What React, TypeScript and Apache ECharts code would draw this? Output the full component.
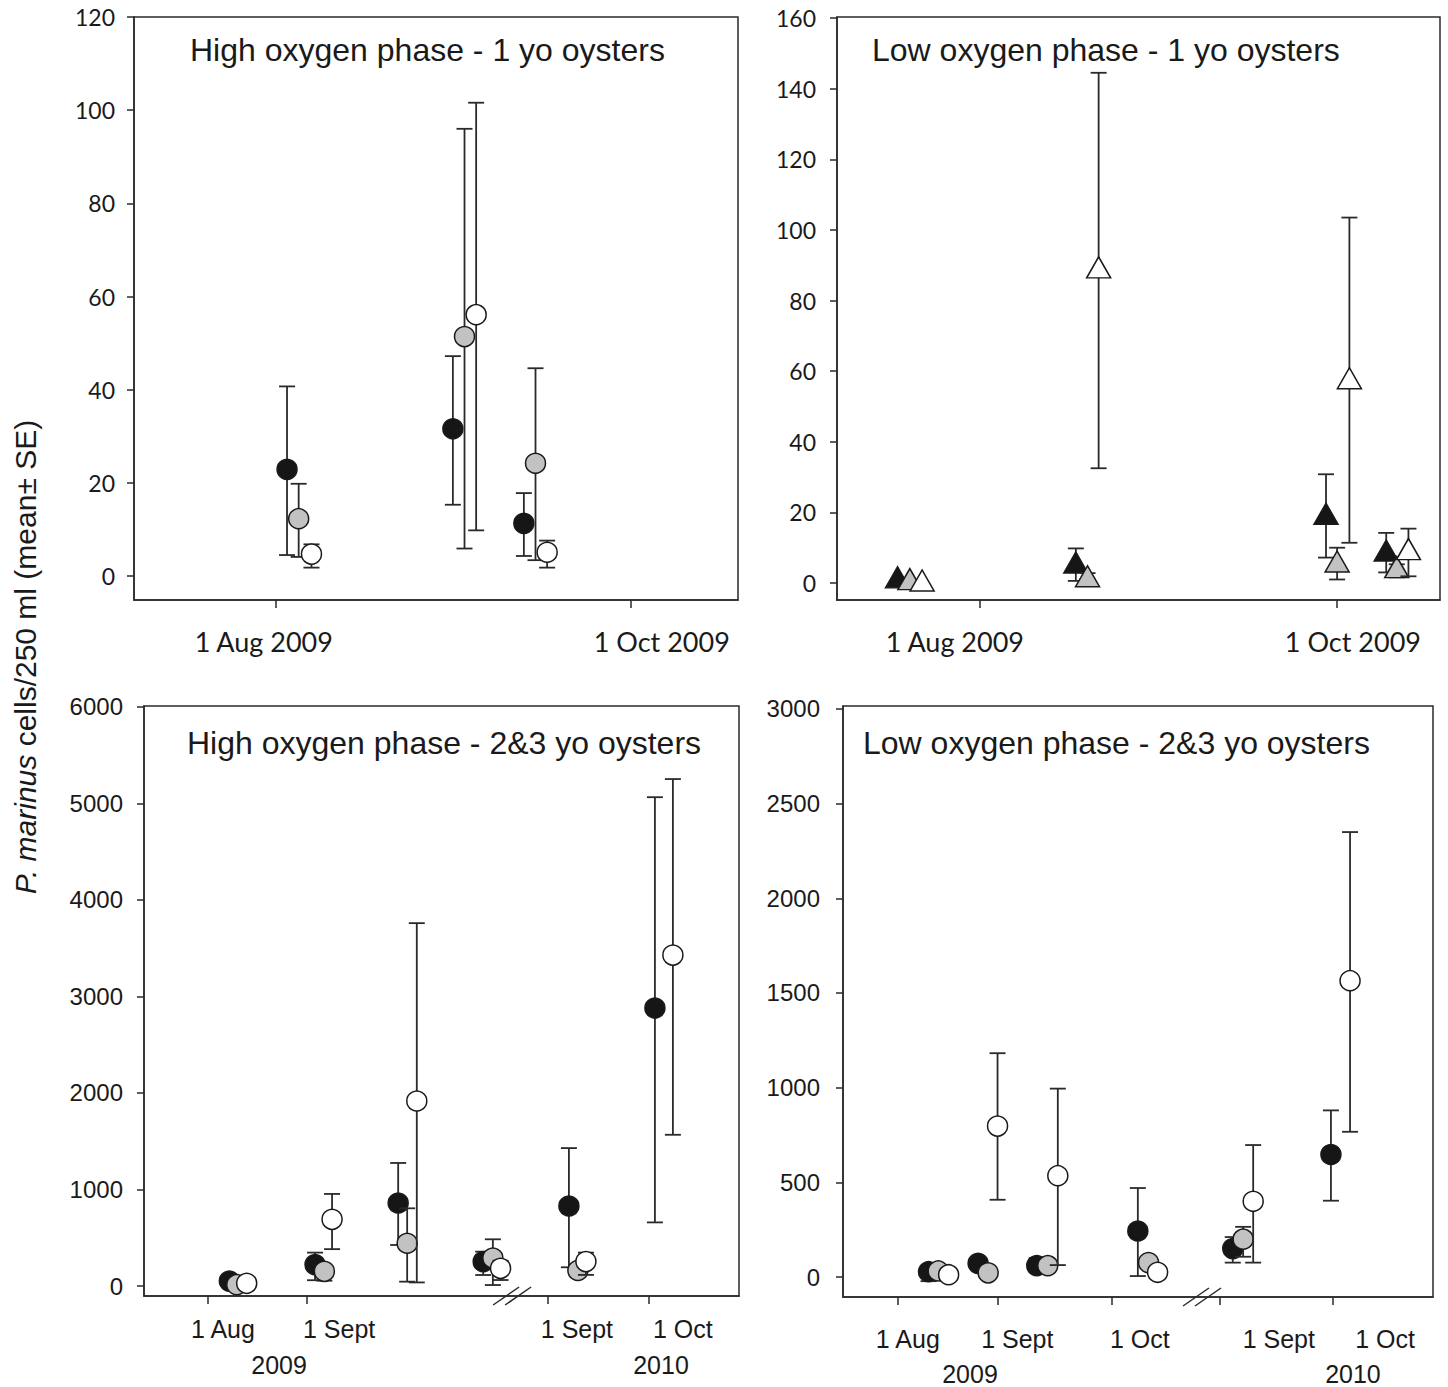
import React, { useEffect, useRef } from "react";
import * as echarts from "echarts";

// ---------- DATA ----------
// each tuple: [axis position (days from 1 Aug 2009 along the drawn axis), mean, lower (mean-SE), upper (mean+SE)]
const hi1Black = [[1.9, 22.9, 4.5, 40.7], [30.4, 31.6, 15.3, 47.2], [42.6, 11.3, 4.3, 17.8]];
const hi1Gray = [[3.9, 12.3, 4.1, 19.8], [32.4, 51.4, 5.9, 96.0], [44.6, 24.2, 3.4, 44.6]];
const hi1White = [[6.1, 4.7, 1.8, 6.8], [34.4, 56.1, 9.8, 101.6], [46.6, 5.1, 1.8, 7.6]];

const lo1Black = [[-14.1, 1.6, 1.6, 1.6], [16.4, 5.8, 0.6, 9.8], [59.2, 19.6, 7.2, 30.8], [69.5, 9.2, 3.0, 14.2]];
const lo1Gray = [[-12.0, 1.1, 1.1, 1.1], [18.4, 1.9, 1.0, 2.8], [61.1, 6.1, 1.0, 10.0], [71.3, 4.5, 1.6, 5.3]];
const lo1White = [[-9.9, 0.7, 0.7, 0.7], [20.3, 89.4, 32.5, 144.5], [63.2, 58.0, 11.4, 103.5], [73.3, 9.6, 1.9, 15.4]];

const hi23Black = [[6.8, 51, 51, 51], [33.5, 221, 60, 346], [59.4, 860, 425, 1275], [85.9, 252, 114, 356], [112.6, 829, 194, 1429], [139.4, 2880, 659, 5065]];
const hi23Gray = [[9.1, 14, 14, 14], [36.4, 152, 55, 195], [62.2, 443, 45, 805], [88.9, 290, 10, 484], [115.4, 161, 120, 200]];
const hi23White = [[12.2, 28, 28, 28], [38.8, 691, 382, 954], [65.2, 1917, 37, 3760], [91.3, 183, 62, 262], [117.9, 253, 115, 346], [145.0, 3429, 1567, 5253]];

const lo23Black = [[9.6, 28, -22, 50], [24.9, 72, 72, 72], [43.0, 60, 30, 100], [74.2, 243, 5, 470], [103.5, 150, 76, 211], [133.8, 647, 403, 880]];
const lo23Gray = [[12.6, 32, 32, 32], [28.0, 22, 22, 22], [46.4, 60, 60, 60], [77.5, 76, 76, 76], [106.7, 200, 107, 265]];
const lo23White = [[15.8, 12, 12, 12], [30.9, 797, 408, 1182], [49.5, 535, 63, 995], [80.3, 25, 25, 25], [109.8, 400, 76, 697], [139.7, 1565, 767, 2350]];

// axis ticks / labels
const topTicks = [0, 61];
const topLabels = ["1 Aug 2009", "1 Oct 2009"];
const hi1LabelPos = [-2.1, 66.3];
const lo1LabelPos = [-4.3, 63.8];

const hi23Ticks = [0, 31, 106, 137.4];
const hi23LabelPos = [4.8, 41, 115.1, 148.1];
const hi23Labels = ["1 Aug", "1 Sept", "1 Sept", "1 Oct"];
const hi23YearPos = [22.3, 141.3];

const lo23Ticks = [0, 31, 66.2, 99.4, 134.4];
const lo23LabelPos = [3.2, 37, 74.8, 117.7, 150.5];
const lo23Labels = ["1 Aug", "1 Sept", "1 Oct", "1 Sept", "1 Oct"];
const lo23YearPos = [22.4, 140.6];
const yearLabels = ["2009", "2010"];

const hi1YTicks = [0, 20, 40, 60, 80, 100, 120];
const lo1YTicks = [0, 20, 40, 60, 80, 100, 120, 140, 160];
const hi23YTicks = [0, 1000, 2000, 3000, 4000, 5000, 6000];
const lo23YTicks = [0, 500, 1000, 1500, 2000, 2500, 3000];

const hi23Break = 94.9;
const lo23Break = 94.0;

const titles = [
  "High oxygen phase - 1 yo oysters",
  "Low oxygen phase - 1 yo oysters",
  "High oxygen phase - 2&3 yo oysters",
  "Low oxygen phase - 2&3 yo oysters",
];

// ---------- STYLE ----------
const ARIAL = '"Liberation Sans", Arial, sans-serif';
const CAL = 'Lato, "Open Sans", sans-serif';
const INK = "#1a1a1a";
const LINE = "#2a2a2a";

const lookup = (pos: number[], txt: string[]) => (v: number) => {
  const i = pos.findIndex((p) => Math.abs(p - v) < 1e-6);
  return i >= 0 ? txt[i] : "";
};

function xAxisDef(gi: number, min: number, max: number, ticks: number[], labelPos: number[], labels: string[], font: string, size: number, margin: number) {
  return {
    type: "value", gridIndex: gi, min, max, position: "bottom",
    axisLine: { show: true, onZero: false, lineStyle: { color: LINE, width: 1.5 } },
    axisTick: { show: true, inside: false, length: 8, customValues: ticks, lineStyle: { color: LINE, width: 1.5 } },
    axisLabel: { show: true, customValues: labelPos, formatter: lookup(labelPos, labels), fontFamily: font, fontSize: size, color: INK, margin },
    splitLine: { show: false },
  };
}

function yearAxisDef(gi: number, min: number, max: number, pos: number[], margin: number) {
  return {
    type: "value", gridIndex: gi, min, max, position: "bottom",
    axisLine: { show: false, onZero: false },
    axisTick: { show: false },
    axisLabel: { show: true, customValues: pos, formatter: lookup(pos, yearLabels), fontFamily: ARIAL, fontSize: 25, color: INK, margin },
    splitLine: { show: false },
  };
}

function yAxisDef(gi: number, min: number, max: number, ticks: number[], font: string, size: number, margin: number) {
  return {
    type: "value", gridIndex: gi, min, max,
    axisLine: { show: true, onZero: false, lineStyle: { color: LINE, width: 1.5 } },
    axisTick: { show: true, inside: false, length: 7, customValues: ticks, lineStyle: { color: LINE, width: 1.5 } },
    axisLabel: { show: true, customValues: ticks, formatter: (v: number) => String(v), fontFamily: font, fontSize: size, color: INK, margin },
    splitLine: { show: false },
  };
}

function errSeries(ai: number, data: number[][], z: number) {
  return {
    type: "custom", xAxisIndex: ai, yAxisIndex: ai, z, silent: true, clip: false,
    data: data.filter((d) => d[3] > d[2]),
    encode: { x: 0, y: 1 },
    renderItem: (_p: any, api: any) => {
      const x = api.value(0);
      const top = api.coord([x, api.value(3)]);
      const bot = api.coord([x, api.value(2)]);
      const hw = 8;
      const st = { stroke: LINE, lineWidth: 1.8 };
      return {
        type: "group",
        children: [
          { type: "line", shape: { x1: top[0], y1: top[1], x2: bot[0], y2: bot[1] }, style: st },
          { type: "line", shape: { x1: top[0] - hw, y1: top[1], x2: top[0] + hw, y2: top[1] }, style: st },
          { type: "line", shape: { x1: bot[0] - hw, y1: bot[1], x2: bot[0] + hw, y2: bot[1] }, style: st },
        ],
      };
    },
  };
}

function ptSeries(ai: number, data: number[][], color: string, symbol: string, size: any, z: number) {
  return {
    type: "scatter", xAxisIndex: ai, yAxisIndex: ai, z, silent: true,
    data: data.map((d) => [d[0], d[1]]),
    symbol, symbolSize: size,
    itemStyle: { color, borderColor: INK, borderWidth: 1.5, opacity: 1 },
  };
}

function breakSeries(ai: number, x: number, y: number) {
  return {
    type: "custom", xAxisIndex: ai, yAxisIndex: ai, z: 20, silent: true, clip: false,
    data: [[x, y]],
    encode: { x: 0, y: 1 },
    renderItem: (_p: any, api: any) => {
      const c = api.coord([api.value(0), api.value(1)]);
      const st = { stroke: LINE, lineWidth: 1.5 };
      const mk = (dx: number) => ({ type: "line", shape: { x1: c[0] + dx - 13, y1: c[1] + 9, x2: c[0] + dx + 13, y2: c[1] - 9 }, style: st });
      return { type: "group", children: [mk(-6), mk(6)] };
    },
  };
}

function groupSeries(ai: number, black: number[][], gray: number[][], white: number[][], symbol: string, size: any) {
  return [
    errSeries(ai, black, 2), ptSeries(ai, black, "#161616", symbol, size, 3),
    errSeries(ai, gray, 4), ptSeries(ai, gray, "#c2c2c2", symbol, size, 5),
    errSeries(ai, white, 6), ptSeries(ai, white, "#ffffff", symbol, size, 7),
  ];
}

export default function App() {
  const ref = useRef<HTMLDivElement>(null);
  useEffect(() => {
    document.body.style.margin = "0";
    if (!ref.current) return;
    const chart = echarts.init(ref.current, null, { renderer: "svg" });
    const grid = (left: number, top: number, width: number, height: number) => ({
      left, top, width, height, show: true, borderColor: LINE, borderWidth: 1.5, backgroundColor: "transparent", containLabel: false,
    });
    const X = [
      { min: -24.4, max: 79.4 },
      { min: -24.46, max: 78.7 },
      { min: -19.8, max: 165.6 },
      { min: -16.8, max: 165.3 },
    ];
    const Y = [
      { min: -5.15, max: 120.0 },
      { min: -4.81, max: 160.3 },
      { min: -103.6, max: 6010 },
      { min: -105.6, max: 3015.8 },
    ];
    const titleText = (t: string, x: number, y: number) => ({
      type: "text", x, y, silent: true,
      style: { text: t, fontFamily: ARIAL, fontSize: 32, fill: INK, align: "left", verticalAlign: "middle" },
    });
    const option: any = {
      animation: false,
      backgroundColor: "#ffffff",
      grid: [grid(134, 17, 604, 583), grid(837, 17, 603, 583), grid(144, 706, 595, 590), grid(843, 706, 590, 591)],
      xAxis: [
        xAxisDef(0, X[0].min, X[0].max, topTicks, hi1LabelPos, topLabels, CAL, 27, 28),
        xAxisDef(1, X[1].min, X[1].max, topTicks, lo1LabelPos, topLabels, CAL, 27, 28),
        xAxisDef(2, X[2].min, X[2].max, hi23Ticks, hi23LabelPos, hi23Labels, ARIAL, 25, 20),
        xAxisDef(3, X[3].min, X[3].max, lo23Ticks, lo23LabelPos, lo23Labels, ARIAL, 25, 29),
        yearAxisDef(2, X[2].min, X[2].max, hi23YearPos, 56),
        yearAxisDef(3, X[3].min, X[3].max, lo23YearPos, 64),
      ],
      yAxis: [
        yAxisDef(0, Y[0].min, Y[0].max, hi1YTicks, CAL, 23, 19),
        yAxisDef(1, Y[1].min, Y[1].max, lo1YTicks, CAL, 23, 21),
        yAxisDef(2, Y[2].min, Y[2].max, hi23YTicks, ARIAL, 24, 21),
        yAxisDef(3, Y[3].min, Y[3].max, lo23YTicks, ARIAL, 24, 23),
      ],
      graphic: [
        titleText(titles[0], 190, 50),
        titleText(titles[1], 872, 50),
        titleText(titles[2], 187, 743),
        titleText(titles[3], 863, 743),
        {
          type: "text", x: 25, y: 657, rotation: Math.PI / 2, silent: true,
          style: {
            text: "{i|P. marinus} cells/250 ml (mean\u00b1 SE)",
            fontFamily: ARIAL, fontSize: 30, fill: INK, align: "center", verticalAlign: "middle",
            rich: { i: { fontStyle: "italic", fontFamily: ARIAL, fontSize: 30, fill: INK } },
          },
        },
      ],
      series: [
        ...groupSeries(0, hi1Black, hi1Gray, hi1White, "circle", 20),
        ...groupSeries(1, lo1Black, lo1Gray, lo1White, "triangle", [24, 21]),
        ...groupSeries(2, hi23Black, hi23Gray, hi23White, "circle", 20),
        ...groupSeries(3, lo23Black, lo23Gray, lo23White, "circle", 20),
        breakSeries(2, hi23Break, Y[2].min),
        breakSeries(3, lo23Break, Y[3].min),
      ],
    };
    chart.setOption(option);
    return () => chart.dispose();
  }, []);
  return <div ref={ref} style={{ width: 1448, height: 1387 }} />;
}
